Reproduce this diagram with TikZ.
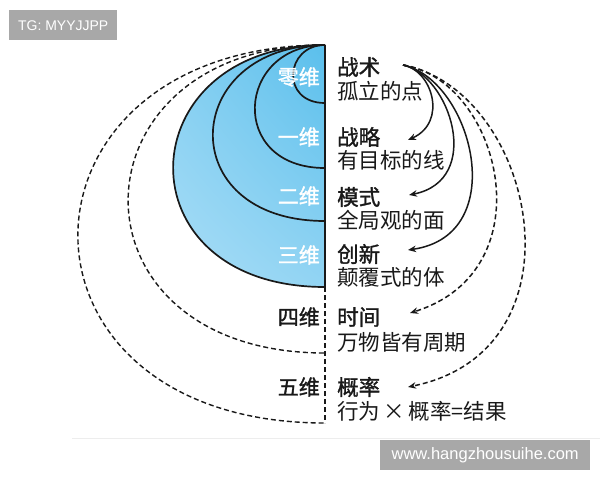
\documentclass[tikz,border=0pt]{standalone}
\usepackage{fontspec}
\usetikzlibrary{arrows.meta,shadings}
\newfontfamily\cjk{Noto Sans CJK SC}
\newfontfamily\cjkb[FakeBold=1.4]{Noto Sans CJK SC}
\setmainfont{Liberation Sans}
\definecolor{wmgray}{HTML}{A8A8A8}
\definecolor{bluedark}{HTML}{5ABFEC}
\definecolor{bluemid}{HTML}{92D4F3}
\definecolor{bluelight}{HTML}{B2E1F7}
\tikzset{
  curve/.style={line width=1.7pt, black!90},
  dcurve/.style={line width=1.4pt, black!90, dash pattern=on 5pt off 3pt},
  arr/.style={line width=1.5pt, black!90, -{Stealth[length=8pt,width=6.5pt,inset=2.5pt]}},
  darr/.style={arr, dash pattern=on 5pt off 3pt},
  head/.style={font=\cjkb\fontsize{21.5}{23}\selectfont, inner sep=0pt, anchor=west, text=black!90},
  sub/.style={font=\cjk\fontsize{21.5}{23}\selectfont, inner sep=0pt, anchor=west, text=black!90},
  dimw/.style={font=\cjkb\fontsize{21}{23}\selectfont, inner sep=0pt, anchor=east, text=white},
  dimb/.style={font=\cjkb\fontsize{21}{23}\selectfont, inner sep=0pt, anchor=east, text=black!90},
  wmbox/.style={fill=wmgray, text=white, inner sep=0pt, minimum height=30pt}
}
\begin{document}
\begin{tikzpicture}[x=1pt,y=-1pt]
\useasboundingbox (0,0) rectangle (600,480);
\fill[white] (0,0) rectangle (600,480);
% faint edge line of the source image
\draw[black!7, line width=0.8pt] (72,438) -- (600,438);
% blue body (3D)
\shade[upper left=bluemid, upper right=bluedark, lower left=bluelight, lower right=bluemid]
  (325,45) .. controls (127,45) and (118,287) .. (325,287) -- cycle;
% nested solid curves
\draw[curve] (325,45) .. controls (285,45) and (280,103) .. (325,103);
\draw[curve] (325,45) .. controls (236,45) and (227,168) .. (325,168);
\draw[curve] (325,45) .. controls (180,45) and (171,221) .. (325,221);
\draw[curve] (325,45) .. controls (127,45) and (118,287) .. (325,287);
% dashed outer curves
\draw[dcurve] (325,45) .. controls (66,45) and (59,353) .. (325,353);
\draw[dcurve] (325,45) .. controls (-1,45) and (-8,423) .. (325,423);
% axis
\draw[line width=1.6pt, black!90] (325,45) -- (325,287);
\draw[dcurve] (325,287) -- (325,423);
% dimension labels
\node[dimw] (d0) at (320,77) {零维};
\node[dimw] (d1) at (320,137) {一维};
\node[dimw] (d2) at (320,196) {二维};
\node[dimw] (d3) at (320,255) {三维};
\node[dimb] (d4) at (320,317) {四维};
\node[dimb] (d5) at (320,387) {五维};
% right texts
\node[head] (h0) at (337,67) {战术};
\node[sub]  (s0) at (337,91) {孤立的点};
\node[head] (h1) at (337,137) {战略};
\node[sub]  (s1) at (337,160) {有目标的线};
\node[head] (h2) at (337,197) {模式};
\node[sub]  (s2) at (337,220) {全局观的面};
\node[head] (h3) at (337,254) {创新};
\node[sub]  (s3) at (337,277) {颠覆式的体};
\node[head] (h4) at (337,317) {时间};
\node[sub]  (s4) at (337,342) {万物皆有周期};
\node[head] (h5) at (337,387) {概率};
\node[sub]  (s5) at (337,411) {行为\,×\,概率=结果};
% arrows
\coordinate (st) at (403,65);
\coordinate (e1) at (408,140);
\coordinate (e2) at (409,195);
\coordinate (e3) at (408,250);
\coordinate (e4) at (410,313);
\coordinate (e5) at (408,387);
\draw[arr] (st) .. controls (432,70) and (448,122) .. (e1);
\draw[arr] (st) .. controls (450,75) and (484,180) .. (e2);
\draw[arr] (st) .. controls (472,80) and (512,235) .. (e3);
\draw[darr] (st) .. controls (500,80) and (548,270) .. (e4);
\draw[darr] (st) .. controls (535,90) and (590,350) .. (e5);
% corner boxes
\node[wmbox, minimum width=108pt, font=\fontsize{14}{16}\selectfont, anchor=north west] (tg) at (9,10) {TG: MYYJJPP};
\node[wmbox, minimum width=210pt, font=\fontsize{16.5}{18}\selectfont, anchor=north west] (url) at (380,440) {www.hangzhousuihe.com};
\end{tikzpicture}
\end{document}
